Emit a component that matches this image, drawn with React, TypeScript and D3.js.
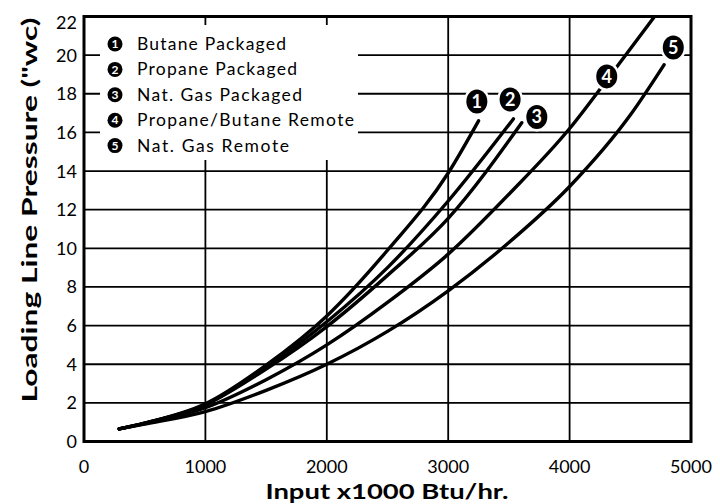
import React from "react";
import * as d3 from "d3";

// ---- data ----
const seriesNames = [
  "Butane Packaged",
  "Propane Packaged",
  "Nat. Gas Packaged",
  "Propane/Butane Remote",
  "Nat. Gas Remote",
];
const input1 = [290, 500, 1000, 1500, 2000, 2500, 3000, 3250];
const pressure1 = [0.65, 0.95, 1.95, 3.95, 6.5, 9.9, 13.9, 16.6];
const input2 = [290, 500, 1000, 1500, 2000, 2500, 3000, 3537];
const pressure2 = [0.65, 0.95, 1.9, 3.85, 6.2, 9.0, 12.45, 16.7];
const input3 = [290, 500, 1000, 1500, 2000, 2500, 3000, 3606];
const pressure3 = [0.65, 0.95, 1.9, 3.75, 5.95, 8.6, 11.55, 16.5];
const input4 = [290, 500, 1000, 1500, 2000, 2500, 3000, 3500, 4000, 4306, 4700];
const pressure4 = [0.65, 0.93, 1.75, 3.2, 5.0, 7.2, 9.7, 12.8, 16.2, 18.7, 22.0];
const input5 = [290, 500, 1000, 1500, 2000, 2500, 3000, 3500, 4000, 4500, 4778];
const pressure5 = [0.65, 0.9, 1.55, 2.65, 4.0, 5.7, 7.8, 10.3, 13.2, 16.9, 19.5];
// positions of the numbered tags along each curve (data units)
const tagInput = [3236, 3510, 3730, 4306, 4854];
const tagPressure = [17.6, 17.7, 16.8, 18.9, 20.4];

const xTicks = [0, 1000, 2000, 3000, 4000, 5000];
const yTicks = [0, 2, 4, 6, 8, 10, 12, 14, 16, 18, 20, 22];

const xTitle = "Input x1000 Btu/hr.";
const yTitle = 'Loading Line Pressure ("wc)';

const inputs = [input1, input2, input3, input4, input5];
const pressures = [pressure1, pressure2, pressure3, pressure4, pressure5];

export default function App() {
  const W = 720;
  const H = 504;
  const x = d3.scaleLinear().domain([0, 5000]).range([84, 691]);
  const y = d3.scaleLinear().domain([0, 22]).range([441.5, 16.5]);
  const line = d3
    .line<[number, number]>()
    .x((d) => x(d[0]))
    .y((d) => y(d[1]))
    .curve(d3.curveMonotoneX);

  const font = "Lato, 'Open Sans', sans-serif";
  const legendW = [149, 160, 165, 217, 152];

  return (
    <svg
      width={W}
      height={H}
      style={{ position: "absolute", left: 0, top: 0, background: "#fff" }}
    >
      <defs>
        <clipPath id="plot">
          <rect x={x(0)} y={y(22)} width={x(5000) - x(0)} height={y(0) - y(22)} />
        </clipPath>
      </defs>
      <rect x={0} y={0} width={W} height={H} fill="#fff" />
      {/* grid */}
      {xTicks.slice(1, -1).map((t) => (
        <line key={"vx" + t} x1={x(t)} x2={x(t)} y1={y(0)} y2={y(22)} stroke="#000" strokeWidth={1.8} />
      ))}
      {yTicks.slice(1, -1).map((t) => (
        <line key={"hy" + t} x1={x(0)} x2={x(5000)} y1={y(t)} y2={y(t)} stroke="#000" strokeWidth={1.8} />
      ))}
      {/* legend background */}
      <rect x={100} y={25} width={258} height={135} fill="#fff" />
      {/* frame */}
      <rect
        x={x(0)}
        y={y(22)}
        width={x(5000) - x(0)}
        height={y(0) - y(22)}
        fill="none"
        stroke="#000"
        strokeWidth={3}
      />
      {/* curves */}
      <g clipPath="url(#plot)">
        {inputs.map((xs, i) => (
          <path
            key={"c" + i}
            d={line(xs.map((v, j) => [v, pressures[i][j]] as [number, number])) || ""}
            fill="none"
            stroke="#000"
            strokeWidth={3.4}
            strokeLinecap="round"
          />
        ))}
      </g>
      {/* curve tags */}
      {tagInput.map((v, i) => (
        <g key={"tag" + i}>
          <ellipse cx={x(v)} cy={y(tagPressure[i])} rx={10.5} ry={12} fill="#000" stroke="#fff" strokeWidth={5} />
          <ellipse cx={x(v)} cy={y(tagPressure[i])} rx={10.5} ry={12} fill="#000" />
          <text
            x={x(v)}
            y={y(tagPressure[i]) + 6.5}
            textAnchor="middle"
            fontFamily={font}
            fontWeight="bold"
            fontSize={18}
            fill="#fff"
          >
            {i + 1}
          </text>
        </g>
      ))}
      {/* legend */}
      {seriesNames.map((name, i) => {
        const by = 50 + i * 25.4;
        return (
          <g key={"lg" + i}>
            <circle cx={115} cy={by - 6} r={7.5} fill="#000" />
            <text x={115} y={by - 1.8} textAnchor="middle" fontFamily={font} fontWeight="bold" fontSize={12} fill="#fff">
              {i + 1}
            </text>
            <text
              x={137}
              y={by}
              fontFamily={font}
              fontSize={17.5}
              fill="#000"
              textLength={legendW[i]}
              lengthAdjust="spacing"
            >
              {name}
            </text>
          </g>
        );
      })}
      {/* tick labels */}
      {yTicks.map((t) => (
        <text
          key={"yl" + t}
          x={77}
          y={Math.max(y(t), 22) + 6.5}
          textAnchor="end"
          fontFamily={font}
          fontSize={18}
          fill="#000"
        >
          {t}
        </text>
      ))}
      {xTicks.map((t) => (
        <text key={"xl" + t} x={x(t)} y={473} textAnchor="middle" fontFamily={font} fontSize={18} fill="#000">
          {t}
        </text>
      ))}
      {/* axis titles */}
      <text
        x={387}
        y={499}
        textAnchor="middle"
        fontFamily={font}
        fontWeight="bold"
        fontSize={21}
        fill="#000"
        textLength={243}
        lengthAdjust="spacingAndGlyphs"
      >
        {xTitle}
      </text>
      <text
        transform={`translate(37,210) rotate(-90)`}
        textAnchor="middle"
        fontFamily={font}
        fontWeight="bold"
        fontSize={21}
        fill="#000"
        textLength={385}
        lengthAdjust="spacingAndGlyphs"
      >
        {yTitle}
      </text>
    </svg>
  );
}
